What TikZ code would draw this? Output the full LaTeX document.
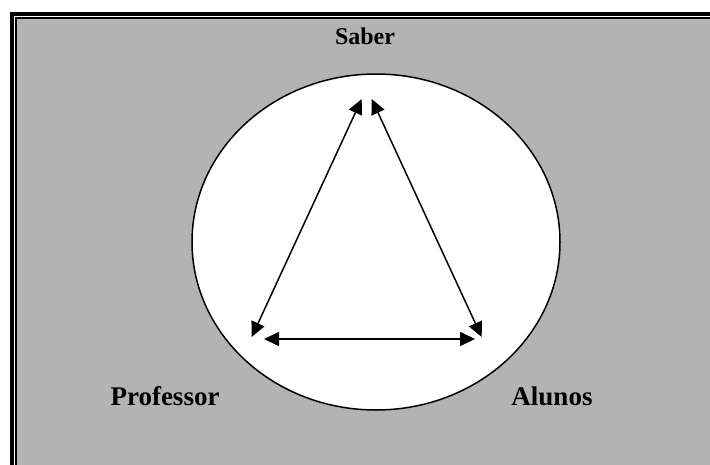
\documentclass[tikz,border=0pt]{standalone}
\usepackage{fontspec}
\setmainfont{Liberation Serif}
\usetikzlibrary{arrows.meta}
\definecolor{bggray}{RGB}{179,179,179}
\tikzset{
  lbl/.style={font=\bfseries, anchor=base, inner sep=0pt},
  rel/.style={line width=1.5pt, {Triangle[length=15pt,width=14pt]}-{Triangle[length=15pt,width=14pt]}, shorten <=0pt, shorten >=0pt},
}
\begin{document}
\begin{tikzpicture}[x=1pt,y=-1pt]
\useasboundingbox (0,0) rectangle (710,464);
\fill[white] (0,0) rectangle (710,464);
\begin{scope}
\clip (0,0) rectangle (710,464);
\draw[line width=4pt] (12,14) rectangle (730,490);
\draw[line width=2pt, fill=bggray] (16,18) rectangle (726,486);
\end{scope}
\draw[line width=1.5pt, fill=white] (376,242) ellipse [x radius=184, y radius=168];
\node[lbl, font=\fontsize{24}{24}\selectfont\bfseries] (saber) at (365,44) {Saber};
\node[lbl, font=\fontsize{27}{27}\selectfont\bfseries] (prof) at (165,405) {Professor};
\node[lbl, font=\fontsize{27}{27}\selectfont\bfseries] (alunos) at (552,405) {Alunos};
\coordinate (tl) at (361.7,99);
\coordinate (tr) at (371.7,99);
\coordinate (bl) at (251.7,337);
\coordinate (br) at (481.7,337);
\coordinate (hl) at (264,339);
\coordinate (hr) at (475,339);
\draw[rel] (bl) -- (tl);
\draw[rel] (tr) -- (br);
\draw[rel] (hl) -- (hr);
\end{tikzpicture}
\end{document}
